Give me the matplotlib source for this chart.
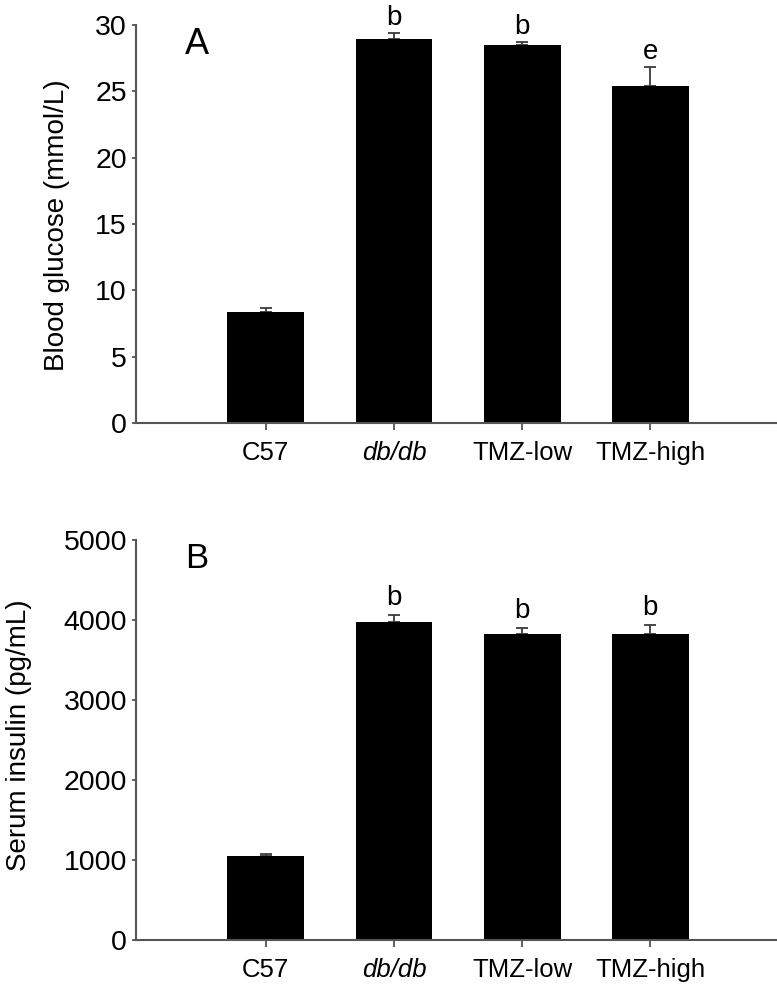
import numpy as np
import matplotlib
matplotlib.use("Agg")
import matplotlib.pyplot as plt

# ── Data ──────────────────────────────────────────────────────────────
groups = ["C57", "db/db", "TMZ-low", "TMZ-high"]

glucose = [8.4, 28.95, 28.5, 25.4]
glucose_err = [0.3, 0.45, 0.25, 1.45]
glucose_marks = ["", "b", "b", "e"]

insulin = [1050, 3975, 3825, 3825]
insulin_err = [30, 90, 75, 110]
insulin_marks = ["", "b", "b", "b"]

plt.rcParams["font.family"] = ["Liberation Sans", "DejaVu Sans"]


def draw_panel(ax, values, errs, marks, ymax, ystep, ylabel, letter, letter_size, mark_pad):
    x = np.arange(len(groups))
    ax.bar(x, values, width=0.6, color="black", zorder=2)
    ax.errorbar(x, values, yerr=[np.zeros(len(errs)), errs], fmt="none",
                ecolor="#3a3a3a", elinewidth=1.3, capsize=4.5, capthick=1.3, zorder=1)
    for xi, v, e, m in zip(x, values, errs, marks):
        if m:
            ax.text(xi, v + e + mark_pad, m, ha="center", va="baseline", fontsize=20)

    ax.set_xlim(-1.014, 3.99)
    ax.set_ylim(0, ymax)
    ax.set_yticks(np.arange(0, ymax + 1, ystep))
    ax.set_xticks(x)
    ax.set_xticklabels(groups, fontsize=18.5)
    ax.get_xticklabels()[1].set_style("italic")
    for t in ax.get_yticklabels():
        t.set_fontsize(20.5)
    ax.set_ylabel(ylabel, fontsize=20)

    for s in ("top", "right"):
        ax.spines[s].set_visible(False)
    for s in ("left", "bottom"):
        ax.spines[s].set_color("#555555")
        ax.spines[s].set_linewidth(1.5)
    ax.tick_params(axis="y", direction="out", length=3, width=1.3, color="#555555", pad=3.5)
    ax.tick_params(axis="x", direction="out", length=5, width=1.3, color="#555555", pad=8)
    ax.text(0.077, 0.995, letter, transform=ax.transAxes, fontsize=letter_size,
            va="top", ha="left")


fig = plt.figure(figsize=(7.77, 9.84), dpi=100)
ax1 = fig.add_axes([0.175, 0.5701, 0.825, 0.4045])
ax2 = fig.add_axes([0.175, 0.0447, 0.825, 0.4065])

draw_panel(ax1, glucose, glucose_err, glucose_marks, 30, 5,
           "Blood glucose (mmol/L)", "A", 26, 0.6)
draw_panel(ax2, insulin, insulin_err, insulin_marks, 5000, 1000,
           "Serum insulin (pg/mL)", "B", 25, 125)

ax1.yaxis.set_label_coords(0.09, 1 - 225 / 984, transform=fig.transFigure)
ax2.yaxis.set_label_coords(0.0412, 1 - 735 / 984, transform=fig.transFigure)

fig.savefig("out.png", dpi=100)
